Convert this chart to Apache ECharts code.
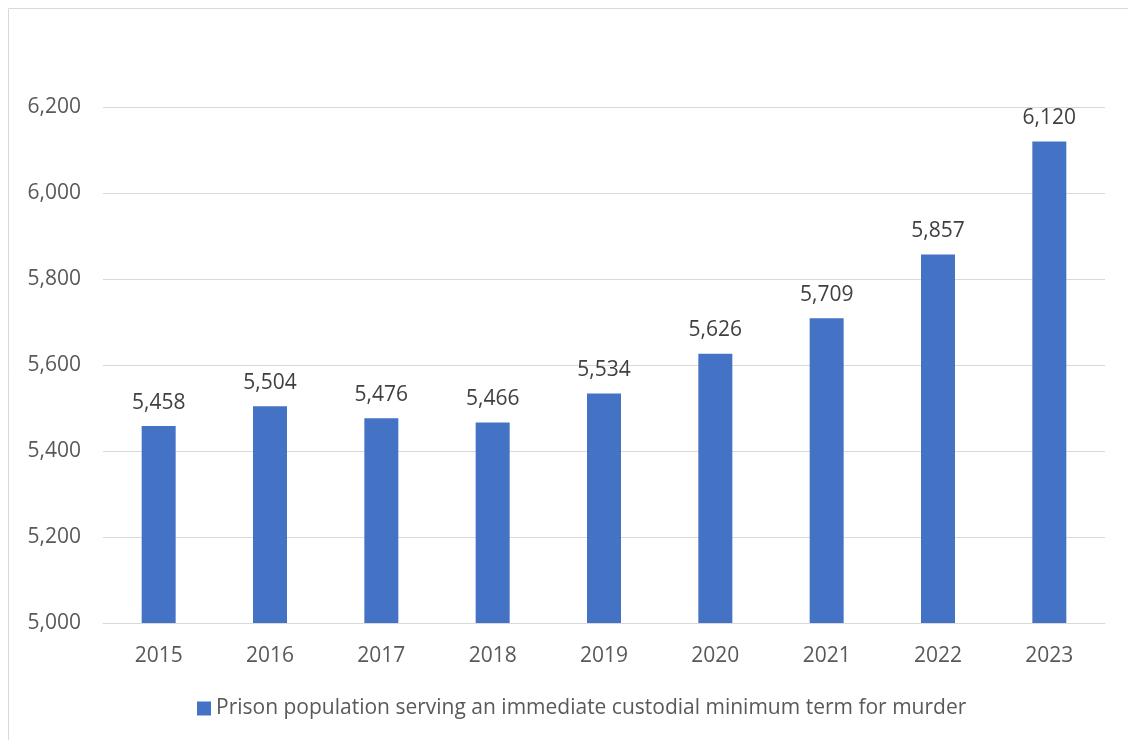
<!DOCTYPE html>
<html>
<head>
	<meta charset="utf-8" />
	<title></title>
	<script type="text/javascript" src="https://cdn.jsdelivr.net/npm/echarts@6/dist/echarts.min.js"></script>
</head>
<body style="margin:0;background:#fff;">
	<div id="main" style="width:1128px;height:740px;"></div>
	<script>
		var years = ['2015', '2016', '2017', '2018', '2019', '2020', '2021', '2022', '2023'];
		var population = [5458, 5504, 5476, 5466, 5534, 5626, 5709, 5857, 6120];
		var seriesName = 'Prison population serving an immediate custodial minimum term for murder';

		var font = 'Open Sans';
		var myChart = echarts.init(document.getElementById('main'));
		var option = {
			animation: false,
			graphic: [{
				type: 'rect',
				shape: { x: 8.5, y: 8.5, width: 1130, height: 740 },
				style: { fill: 'none', stroke: '#d9d9d9', lineWidth: 1 }
			}],
			grid: {
				left: 103,
				right: 23,
				top: 107,
				bottom: 117
			},
			legend: {
				bottom: 16,
				left: 192,
				itemWidth: 14,
				itemHeight: 14,
				itemGap: 6,
				icon: 'rect',
				textStyle: { color: '#595959', fontSize: 21, fontFamily: font },
				data: [seriesName]
			},
			xAxis: {
				type: 'category',
				data: years,
				axisLine: { lineStyle: { color: '#d9d9d9', width: 1 } },
				axisTick: { show: false },
				axisLabel: { color: '#595959', fontSize: 21, fontFamily: font, margin: 23 }
			},
			yAxis: {
				type: 'value',
				min: 5000,
				max: 6200,
				interval: 200,
				axisLine: { show: false },
				axisTick: { show: false },
				splitLine: { lineStyle: { color: '#d9d9d9', width: 1 } },
				axisLabel: {
					color: '#595959', fontSize: 21, fontFamily: font, margin: 22,
					formatter: function (v) { return v.toLocaleString('en-US'); }
				}
			},
			series: [{
				name: seriesName,
				type: 'bar',
				barWidth: 34,
				itemStyle: { color: '#4472c4' },
				label: {
					show: true,
					position: 'top',
					distance: 13,
					color: '#404040',
					fontSize: 21,
					fontFamily: font,
					formatter: function (p) { return p.value.toLocaleString('en-US'); }
				},
				data: population
			}]
		};
		myChart.setOption(option);
	</script>
</body>
</html>
